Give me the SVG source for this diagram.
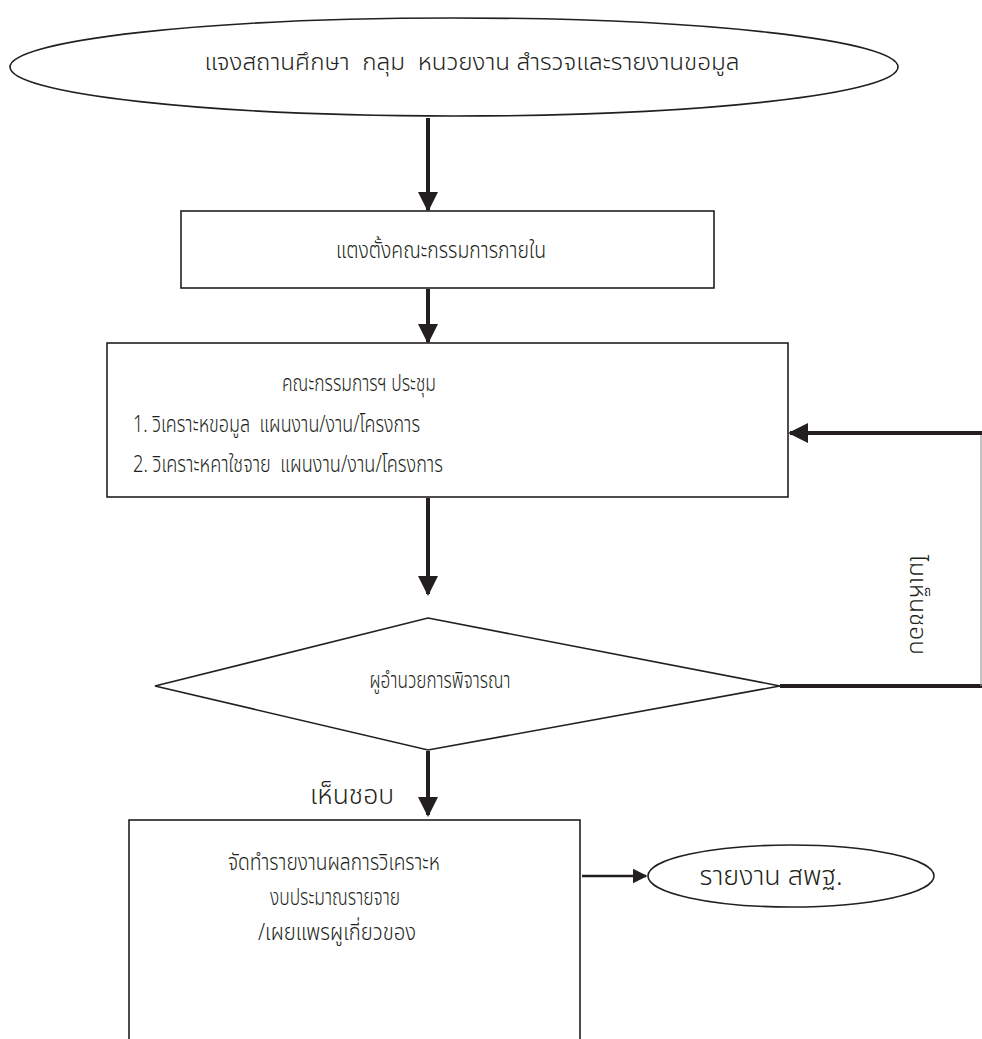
<svg xmlns="http://www.w3.org/2000/svg" width="982" height="1039" viewBox="0 0 982 1039">
<defs>
<style>
.shape{fill:#fff;stroke:#231f20;stroke-width:1.6}
.t{font-family:"Noto Sans Thai","Noto Sans","DejaVu Sans",sans-serif;font-size:23px;font-weight:300;fill:#231f20;white-space:pre}
.c{text-anchor:middle}
.big{font-size:27px}
.conn{stroke:#231f20;stroke-width:4;fill:none}
.thin{stroke:#9a9a9a;stroke-width:1.2;fill:none}
</style>
<marker id="ah" viewBox="0 0 10 10" refX="9" refY="5" markerWidth="5" markerHeight="5" markerUnits="strokeWidth" orient="auto">
<path d="M0,0 L10,5 L0,10 z" fill="#231f20"/>
</marker>
<marker id="ah2" viewBox="0 0 10 10" refX="9" refY="5" markerWidth="6" markerHeight="6" markerUnits="strokeWidth" orient="auto">
<path d="M0,0 L10,5 L0,10 z" fill="#231f20"/>
</marker>
</defs>
<rect width="982" height="1039" fill="#fff"/>
<g id="connectors">
<line class="conn" x1="428" y1="118" x2="428" y2="210" marker-end="url(#ah)"/>
<line class="conn" x1="428" y1="289" x2="428" y2="342" marker-end="url(#ah)"/>
<line class="conn" x1="428" y1="498" x2="428" y2="594" marker-end="url(#ah)"/>
<line class="conn" x1="428" y1="751" x2="428" y2="815" marker-end="url(#ah)"/>
<line class="conn" x1="780" y1="686" x2="982" y2="686"/>
<line class="thin" x1="981" y1="433" x2="981" y2="686"/>
<line class="conn" x1="982" y1="433" x2="790" y2="433" marker-end="url(#ah)"/>
<line stroke="#231f20" stroke-width="2.5" x1="582" y1="876" x2="646" y2="876" marker-end="url(#ah2)"/>
</g>
<g id="n1">
<ellipse class="shape" cx="454" cy="67" rx="444" ry="49"/>
<text class="t c" x="472" y="70" textLength="535" lengthAdjust="spacingAndGlyphs">แจงสถานศึกษา  กลุม  หนวยงาน สำรวจและรายงานขอมูล</text>
</g>
<g id="n2">
<rect class="shape" x="181" y="211" width="533" height="77"/>
<text class="t c" x="441" y="258" textLength="210" lengthAdjust="spacingAndGlyphs">แตงตั้งคณะกรรมการภายใน</text>
</g>
<g id="n3">
<rect class="shape" x="107" y="343" width="681" height="154"/>
<text class="t c" x="359" y="391" textLength="154" lengthAdjust="spacingAndGlyphs">คณะกรรมการฯ ประชุม</text>
<text class="t" x="133" y="432" textLength="287" lengthAdjust="spacingAndGlyphs">1. วิเคราะหขอมูล  แผนงาน/งาน/โครงการ</text>
<text class="t" x="133" y="472" textLength="310" lengthAdjust="spacingAndGlyphs">2. วิเคราะหคาใชจาย  แผนงาน/งาน/โครงการ</text>
</g>
<g id="n4">
<polygon class="shape" points="428,618 780,686 428,750 155,686"/>
<text class="t c" x="440" y="688" textLength="141" lengthAdjust="spacingAndGlyphs">ผูอำนวยการพิจารณา</text>
</g>
<g id="labels">
<text class="t" transform="translate(910,605) rotate(90)" text-anchor="middle" textLength="100" lengthAdjust="spacingAndGlyphs">ไมเห็นชอบ</text>
<text class="t big" x="310" y="804" textLength="84" lengthAdjust="spacingAndGlyphs">เห็นชอบ</text>
</g>
<g id="n5">
<rect class="shape" x="129" y="820" width="451" height="240"/>
<text class="t c" x="334" y="870" textLength="212" lengthAdjust="spacingAndGlyphs">จัดทำรายงานผลการวิเคราะห</text>
<text class="t c" x="335" y="905" textLength="130" lengthAdjust="spacingAndGlyphs">งบประมาณรายจาย</text>
<text class="t c" x="337" y="940" textLength="158" lengthAdjust="spacingAndGlyphs">/เผยแพรผูเกี่ยวของ</text>
</g>
<g id="n6">
<ellipse class="shape" cx="791" cy="876" rx="143" ry="31"/>
<text class="t big c" x="771" y="885" textLength="143" lengthAdjust="spacingAndGlyphs">รายงาน สพฐ.</text>
</g>
</svg>
